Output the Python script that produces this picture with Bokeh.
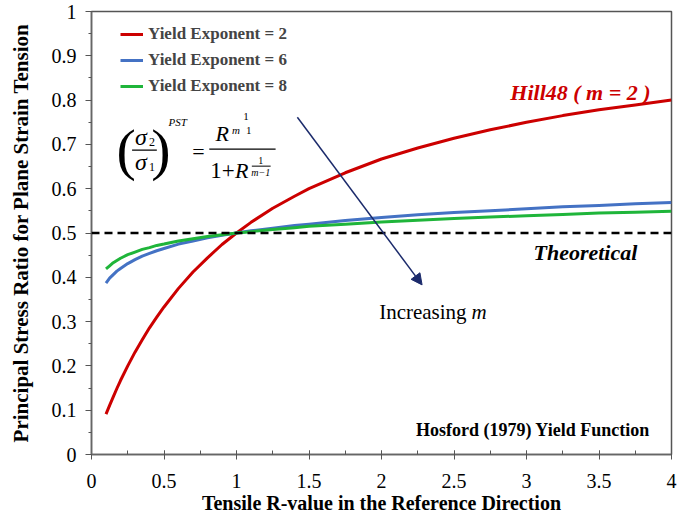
from bokeh.plotting import figure
from bokeh.models import (Legend, LegendItem, Span, Label, Arrow, NormalHead,
                          FixedTicker, Range1d)
from bokeh.embed import file_html
from bokeh.resources import INLINE

# ---- data ----
r_values = [0.1, 0.125, 0.15, 0.175, 0.2, 0.25, 0.3, 0.35, 0.4, 0.45, 0.5,
            0.6, 0.7, 0.8, 0.9, 1.0, 1.1, 1.25, 1.4, 1.5, 1.75, 2.0, 2.25,
            2.5, 2.75, 3.0, 3.25, 3.5, 3.75, 4.0]
ratio_m2 = [0.091, 0.111, 0.130, 0.149, 0.167, 0.200, 0.231, 0.259, 0.286,
            0.310, 0.333, 0.375, 0.412, 0.444, 0.474, 0.500, 0.524, 0.556,
            0.583, 0.600, 0.636, 0.667, 0.692, 0.714, 0.733, 0.750, 0.765,
            0.778, 0.789, 0.800]
ratio_m6 = [0.387, 0.398, 0.406, 0.414, 0.420, 0.431, 0.440, 0.448, 0.454,
            0.460, 0.465, 0.475, 0.482, 0.489, 0.495, 0.500, 0.505, 0.511,
            0.517, 0.520, 0.528, 0.535, 0.541, 0.546, 0.550, 0.555, 0.559,
            0.562, 0.566, 0.569]
ratio_m8 = [0.419, 0.426, 0.433, 0.438, 0.443, 0.451, 0.457, 0.463, 0.467,
            0.472, 0.475, 0.482, 0.487, 0.492, 0.496, 0.500, 0.503, 0.508,
            0.512, 0.515, 0.520, 0.525, 0.529, 0.533, 0.536, 0.539, 0.542,
            0.545, 0.547, 0.549]
series_labels = ["Yield Exponent = 2", "Yield Exponent = 6", "Yield Exponent = 8"]
theoretical_ratio = 0.5
x_tick_values = [0, 0.5, 1, 1.5, 2, 2.5, 3, 3.5, 4]
x_tick_labels = ["0", "0.5", "1", "1.5", "2", "2.5", "3", "3.5", "4"]
y_tick_values = [0, 0.1, 0.2, 0.3, 0.4, 0.5, 0.6, 0.7, 0.8, 0.9, 1]
y_tick_labels = ["0", "0.1", "0.2", "0.3", "0.4", "0.5", "0.6", "0.7", "0.8", "0.9", "1"]

SERIF = "Liberation Serif"

p = figure(width=677, height=516, output_backend="svg", toolbar_location=None,
           x_range=Range1d(0, 4), y_range=Range1d(0, 1),
           min_border_left=91, min_border_right=6, min_border_top=11,
           min_border_bottom=61)
p.grid.visible = False
p.outline_line_color = "#555555"
p.outline_line_width = 1.5

p.xaxis.ticker = FixedTicker(ticks=x_tick_values,
                             minor_ticks=[i * 0.25 for i in range(17)])
p.yaxis.ticker = FixedTicker(ticks=y_tick_values,
                             minor_ticks=[i * 0.05 for i in range(21)])
p.xaxis.major_label_overrides = {v: s for v, s in zip(x_tick_values, x_tick_labels)}
p.yaxis.major_label_overrides = {v: s for v, s in zip(y_tick_values, y_tick_labels)}

for ax in (p.xaxis[0], p.yaxis[0]):
    ax.axis_line_color = "#666666"
    ax.axis_line_width = 1.5
    ax.major_tick_line_color = "#555555"
    ax.minor_tick_line_color = "#555555"
    ax.major_label_text_font = SERIF
    ax.major_label_text_font_size = "20px"
    ax.major_label_text_color = "black"
    ax.axis_label_text_font = SERIF
    ax.axis_label_text_font_style = "bold"
    ax.axis_label_text_color = "black"

p.xaxis.axis_label_text_font_size = "20px"
p.yaxis.axis_label_text_font_size = "21px"
p.xaxis.major_tick_in = 4
p.xaxis.major_tick_out = 5
p.xaxis.minor_tick_in = 4
p.xaxis.minor_tick_out = 0
p.xaxis.major_label_standoff = 14
p.xaxis.axis_label_standoff = 1
p.yaxis.major_tick_in = 0
p.yaxis.major_tick_out = 6
p.yaxis.minor_tick_in = 0
p.yaxis.minor_tick_out = 3
p.yaxis.major_label_standoff = 9
p.yaxis.axis_label_standoff = 16

p.xaxis.axis_label = "Tensile R-value in the Reference Direction"
p.yaxis.axis_label = "Principal Stress Ratio for Plane Strain Tension"

# theoretical line
p.add_layout(Span(location=theoretical_ratio, dimension="width",
                  line_color="black", line_dash="8 5", line_width=2.5))

colors = ["#cc0000", "#4472c4", "#1fb53a"]
renderers = []
for vals, col in zip([ratio_m2, ratio_m6, ratio_m8], colors):
    renderers.append(p.line(r_values, vals, line_color=col, line_width=3,
                            line_join="round"))

legend = Legend(items=[LegendItem(label=lab, renderers=[r])
                       for lab, r in zip(series_labels, renderers)],
                location=(29, 358), margin=0, padding=0, spacing=6,
                glyph_width=23, glyph_height=20, label_height=20,
                label_standoff=5, border_line_color=None,
                background_fill_alpha=0)
legend.label_text_font = SERIF
legend.label_text_font_style = "bold"
legend.label_text_font_size = "17px"
p.add_layout(legend)


def dx(px):
    return (px - 91) / 146.5


def dy(py):
    return (455 - py) / 444


def lab(px, py, text, size, style="normal", color="black", align="center",
        baseline="middle"):
    p.add_layout(Label(x=dx(px), y=dy(py), text=text, text_font=SERIF,
                       text_font_size=size, text_font_style=style,
                       text_color=color, text_align=align,
                       text_baseline=baseline))


def hline(x0, x1, py, w=1.2):
    p.add_layout(Arrow(x_start=dx(x0), y_start=dy(py), x_end=dx(x1),
                       y_end=dy(py), start=None, end=None,
                       line_color="black", line_width=w))


# annotations
lab(585, 92, "Hill48 ( m = 2 )", "22px", "bold italic", "#cc0000")
lab(590, 253, "Theoretical", "22px", "bold italic")
lab(470, 312, "Increasing", "21px", "normal", align="right")
lab(475, 312, "m", "21px", "italic", align="left")
lab(537, 430, "Hosford (1979) Yield Function", "18px", "bold")

p.add_layout(Arrow(x_start=dx(299), y_start=dy(117), x_end=dx(425),
                   y_end=dy(285), line_color="#1b2a6b", line_width=1.5,
                   end=NormalHead(size=11, fill_color="#1b2a6b",
                                  line_color="#1b2a6b")))

# formula (sigma2/sigma1)^PST = R^(1/(m-1)) / (1 + R^(1/(m-1)))
lab(126, 149, "(", "58px", "normal")
lab(161, 149, ")", "58px", "normal")
lab(141, 137, "σ", "24px", "italic")
lab(152, 142, "2", "12px")
hline(132, 157, 150)
lab(141, 162, "σ", "24px", "italic")
lab(152, 167, "1", "12px")
lab(178, 122, "PST", "11px", "italic")
lab(199, 151, "=", "22px")
lab(223, 133, "R", "22px", "italic")
lab(237, 130, "m", "11px", "italic")
lab(250, 130, "1", "11px")
lab(247, 116, "1", "11px")
hline(210, 277, 149)
lab(211, 170, "1+", "23px", align="left")
lab(236, 170, "R", "22px", "italic", align="left")
lab(262, 160, "1", "10px")
hline(253, 272, 166, 1.0)
lab(262, 172, "m−1", "10px", "italic")

open("out.html", "w").write(file_html(p, INLINE))
